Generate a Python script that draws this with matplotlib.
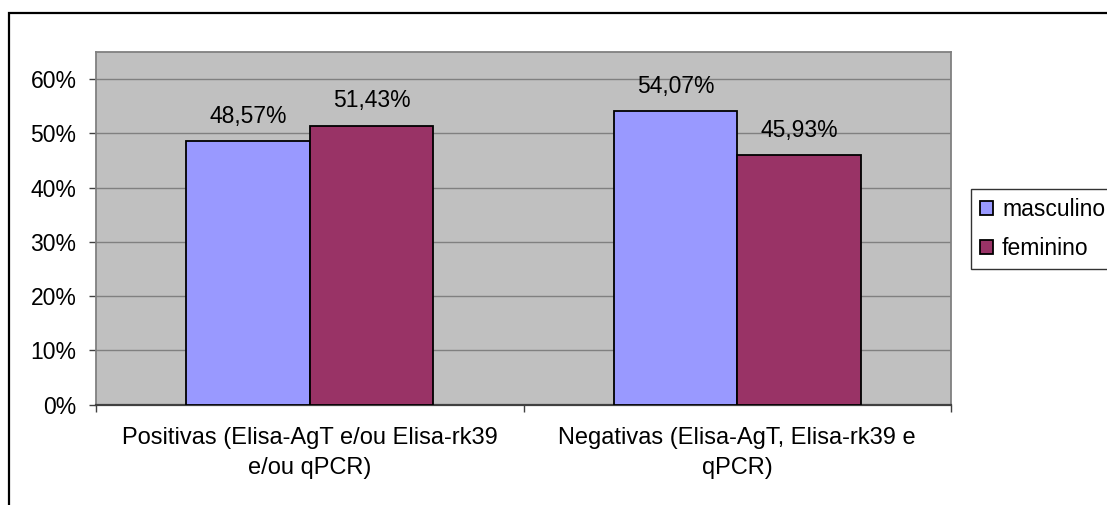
import matplotlib.pyplot as plt
from matplotlib.patches import Rectangle
from matplotlib.ticker import FuncFormatter

plt.rcParams['font.family'] = ['Liberation Sans', 'DejaVu Sans']

categorias = ['Positivas (Elisa-AgT e/ou Elisa-rk39\ne/ou qPCR)',
              'Negativas (Elisa-AgT, Elisa-rk39 e\nqPCR)']
masculino = [48.57, 54.07]
feminino = [51.43, 45.93]
series = ['masculino', 'feminino']
cores = ['#9999FF', '#993366']

fs = 16.5


def rotulo(v):
    return f"{v:.2f}%".replace('.', ',')


fig = plt.figure(figsize=(11.07, 5.05), dpi=100)
ax = fig.add_axes([96 / 1107, 1 - 404.5 / 505, 855 / 1107, 352.5 / 505])

# moldura externa do gráfico
fig.patches.append(Rectangle((9 / 1107, -0.2), 1.2, 1.2 - 13 / 505,
                             transform=fig.transFigure, fill=False,
                             edgecolor='black', linewidth=1.6))

largura = 0.289
x = range(len(categorias))
for i, (valores, nome, cor) in enumerate(zip([masculino, feminino], series, cores)):
    pos = [xi + (i - 0.5) * largura for xi in x]
    barras = ax.bar(pos, valores, largura, color=cor, edgecolor='black',
                    linewidth=1.3, label=nome, zorder=3)
    for b, v in zip(barras, valores):
        ax.text(b.get_x() + b.get_width() / 2, v + 3.4, rotulo(v),
                ha='center', va='baseline', fontsize=fs)

ax.set_facecolor('#C0C0C0')
ax.set_xlim(-0.5, 1.5)
ax.set_ylim(0, 65)
ax.set_yticks(range(0, 61, 10))
ax.yaxis.set_major_formatter(FuncFormatter(lambda v, p: f"{int(v)}%"))
ax.grid(axis='y', color='#808080', linewidth=1, zorder=0)

ax.set_xticks([-0.5, 0.5, 1.5])
ax.set_xticklabels([])
ax.set_xticks([0, 1], minor=True)
ax.set_xticklabels(categorias, minor=True, fontsize=17, linespacing=1.5)
ax.tick_params(axis='x', which='minor', length=0, pad=16)
ax.tick_params(axis='x', which='major', length=5, color='#404040', width=1)
ax.tick_params(axis='y', length=5, color='#404040', width=1, labelsize=fs, pad=9)

for lado in ['top', 'right', 'left']:
    ax.spines[lado].set_color('#808080')
    ax.spines[lado].set_linewidth(1.3)
ax.spines['bottom'].set_color('#404040')
ax.spines['bottom'].set_linewidth(1.6)

leg = fig.legend(loc='upper left', bbox_to_anchor=(971 / 1107, 1 - 189 / 505),
                 fontsize=fs, frameon=True, fancybox=False, borderaxespad=0,
                 handlelength=0.55, handleheight=0.55, handletextpad=0.4,
                 borderpad=0.4, labelspacing=0.7)
leg.get_frame().set_edgecolor('black')
leg.get_frame().set_linewidth(1)

fig.savefig('out.png', dpi=100)
